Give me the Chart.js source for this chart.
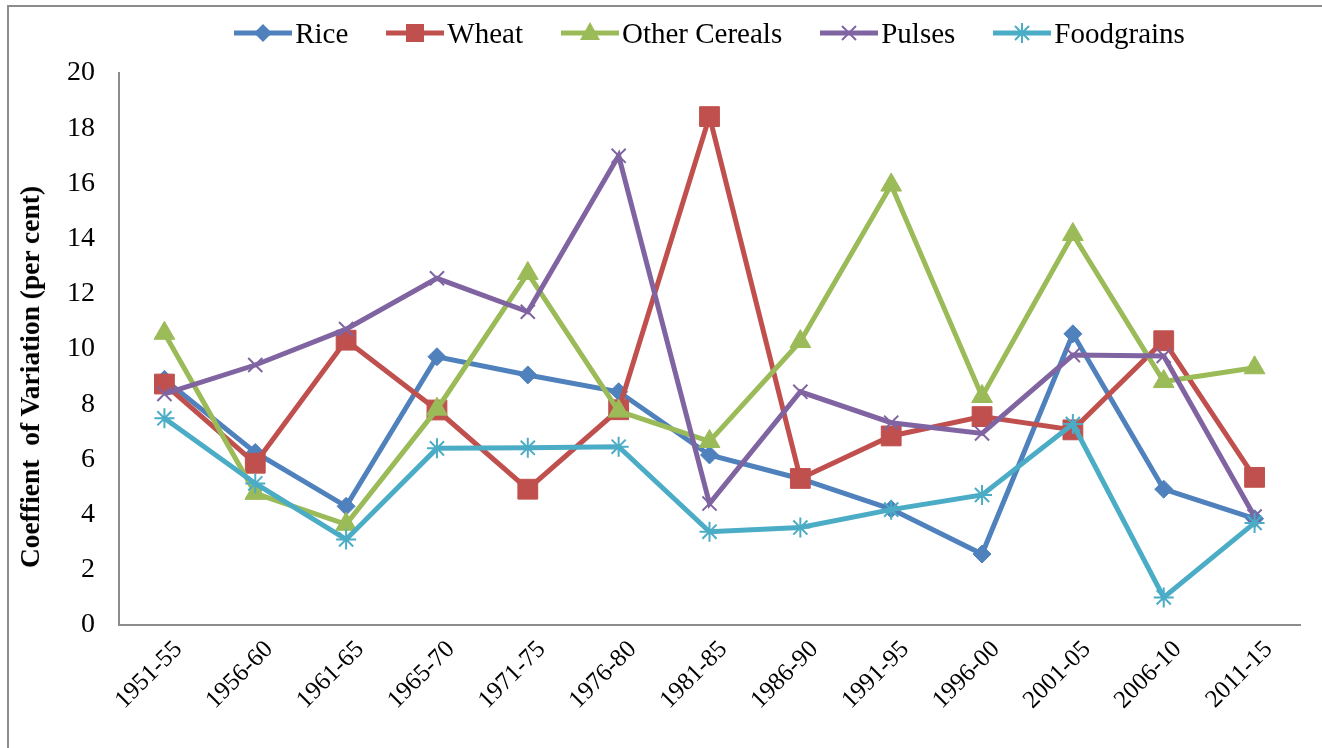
<!DOCTYPE html>
<html>
<head>
<meta charset="utf-8">
<script src="https://cdn.jsdelivr.net/npm/chart.js@4.4.0/dist/chart.umd.min.js"></script>
<style>
    html, body { margin: 0; padding: 0; background: #fff; overflow: hidden; }
    #wrap { position: relative; width: 1322px; height: 748px; }
    #frame { position: absolute; left: 7px; top: 5px; width: 1400px; height: 800px; border: 2px solid #8c8c8c; box-sizing: border-box; }
    #chart { position: absolute; left: 0; top: 0; }
    #legend { position: absolute; top: 15px; left: 119px; width: 1181px; display: flex; justify-content: center; gap: 38px;
        font-family: "Liberation Serif", "Times New Roman", serif; font-size: 29px; color: #000; line-height: 36px; }
    #legend .item { display: flex; align-items: center; }
    #legend svg { margin-right: 3px; }
    #ytitle { position: absolute; left: 30px; top: 377px; transform: translate(-50%, -50%) rotate(-90deg); white-space: pre;
        font-family: "Liberation Serif", "Times New Roman", serif; font-size: 27.5px; font-weight: bold; color: #000; }
</style>
</head>
<body>
<div id="wrap">
    <div id="frame"></div>
    <canvas id="chart" width="1322" height="748"></canvas>
    <div id="legend"></div>
    <div id="ytitle">Coeffient  of Variation (per cent)</div>
</div>
<script>
// data
const periods = ['1951-55', '1956-60', '1961-65', '1965-70', '1971-75', '1976-80', '1981-85',
    '1986-90', '1991-95', '1996-00', '2001-05', '2006-10', '2011-15'];
const rice = [8.9, 6.25, 4.3, 9.72, 9.06, 8.45, 6.16, 5.3, 4.2, 2.57, 10.55, 4.92, 3.85];
const wheat = [8.73, 5.86, 10.32, 7.79, 4.92, 7.8, 18.42, 5.31, 6.85, 7.55, 7.07, 10.3, 5.35];
const otherCereals = [10.57, 4.77, 3.65, 7.82, 12.74, 7.75, 6.65, 10.27, 15.94, 8.28, 14.15, 8.82, 9.32];
const pulses = [8.37, 9.42, 10.72, 12.56, 11.35, 17.0, 4.4, 8.45, 7.33, 6.94, 9.78, 9.75, 3.93];
const foodgrains = [7.49, 5.13, 3.1, 6.4, 6.42, 6.46, 3.38, 3.53, 4.18, 4.71, 7.28, 1.0, 3.7];

const series = [
    { label: 'Rice', data: rice, color: '#4f81bd', style: 'rectRot', r: 9 },
    { label: 'Wheat', data: wheat, color: '#c0504d', style: 'rect', r: 14 },
    { label: 'Other Cereals', data: otherCereals, color: '#9bbb59', style: 'triangle', r: 12 },
    { label: 'Pulses', data: pulses, color: '#8064a2', style: 'crossRot', r: 10 },
    { label: 'Foodgrains', data: foodgrains, color: '#4bacc6', style: 'star', r: 10 }
];

const isCross = s => s === 'crossRot' || s === 'star';

const datasets = series.map((s, i) => ({
    label: s.label,
    data: s.data,
    borderColor: s.color,
    backgroundColor: s.color,
    borderWidth: 5,
    tension: 0,
    pointStyle: s.style,
    pointRadius: s.r,
    pointHoverRadius: s.r,
    pointBackgroundColor: s.color,
    pointBorderColor: s.color,
    pointBorderWidth: isCross(s.style) ? 2 : 1,
    order: series.length - i   // later series on top, like the original
}));

// html legend with a line + marker like the original
const legendEl = document.getElementById('legend');
series.forEach(s => {
    let mk = '';
    const cx = 29, cy = 18, c = s.color;
    if (s.style === 'rectRot') mk = `<polygon points="${cx},${cy-9} ${cx+9},${cy} ${cx},${cy+9} ${cx-9},${cy}" fill="${c}"/>`;
    if (s.style === 'rect') mk = `<rect x="${cx-9}" y="${cy-9}" width="18" height="18" fill="${c}"/>`;
    if (s.style === 'triangle') mk = `<polygon points="${cx},${cy-11} ${cx+10},${cy+7} ${cx-10},${cy+7}" fill="${c}"/>`;
    if (s.style === 'crossRot') mk = `<path d="M${cx-7} ${cy-7}L${cx+7} ${cy+7}M${cx+7} ${cy-7}L${cx-7} ${cy+7}" stroke="${c}" stroke-width="2"/>`;
    if (s.style === 'star') mk = `<path d="M${cx-7} ${cy-7}L${cx+7} ${cy+7}M${cx+7} ${cy-7}L${cx-7} ${cy+7}M${cx} ${cy-10}L${cx} ${cy+10}" stroke="${c}" stroke-width="2"/>`;
    const item = document.createElement('div');
    item.className = 'item';
    item.innerHTML = `<svg width="58" height="36"><line x1="0" y1="${cy}" x2="58" y2="${cy}" stroke="${c}" stroke-width="5"/>${mk}</svg><span>${s.label}</span>`;
    legendEl.appendChild(item);
});

const serif = 'Liberation Serif';

var ctx = document.getElementById('chart').getContext('2d');
var lineChart = new Chart(ctx, {
    type: 'line',
    data: { labels: periods, datasets: datasets },
    options: {
        responsive: false,
        animation: false,
        layout: { padding: { top: 73, right: 22, bottom: 0, left: 0 } },
        plugins: {
            legend: { display: false },
            tooltip: { enabled: false }
        },
        scales: {
            x: {
                offset: true,
                grid: { color: 'transparent', drawTicks: false },
                border: { display: true, color: '#8c8c8c', width: 2 },
                ticks: {
                    autoSkip: false,
                    minRotation: 45,
                    maxRotation: 45,
                    padding: 10,
                    labelOffset: 14,
                    color: '#000',
                    font: { family: serif, size: 25 }
                },
                afterFit: function(scale) { scale.height = 123; }
            },
            y: {
                min: 0,
                max: 20,
                grid: { color: 'transparent', drawTicks: false },
                border: { display: true, color: '#8c8c8c', width: 2 },
                ticks: {
                    stepSize: 2,
                    padding: 24,
                    color: '#000',
                    font: { family: serif, size: 28 }
                },
                afterFit: function(scale) { scale.width = 119; }
            }
        }
    }
});
</script>
</body>
</html>
